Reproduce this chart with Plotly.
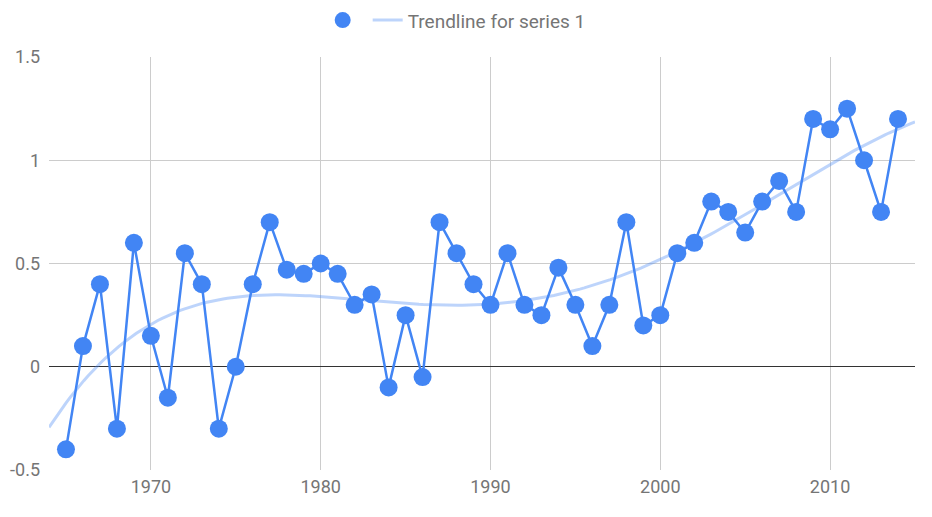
import numpy as np
import plotly.graph_objects as go

years = list(range(1965, 2015))
values = [-0.4, 0.1, 0.4, -0.3, 0.6, 0.15, -0.15, 0.55, 0.4, -0.3,
          0.0, 0.4, 0.7, 0.47, 0.45, 0.5, 0.45, 0.3, 0.35, -0.1,
          0.25, -0.05, 0.7, 0.55, 0.4, 0.3, 0.55, 0.3, 0.25, 0.48,
          0.3, 0.1, 0.3, 0.7, 0.2, 0.25, 0.55, 0.6, 0.8, 0.75,
          0.65, 0.8, 0.9, 0.75, 1.2, 1.15, 1.25, 1.0, 0.75, 1.2]
x_ticks = [1970, 1980, 1990, 2000, 2010]
y_ticks = [-0.5, 0, 0.5, 1, 1.5]
x_range = [1964, 2015]

# Polynomial trendline fitted to the series
coef = np.polyfit(np.array(years) - 1990, values, 4)
tx = np.linspace(x_range[0], x_range[1], 200)
ty = np.polyval(coef, tx - 1990)

BLUE = "#4285F4"
fig = go.Figure()
fig.add_trace(go.Scatter(x=tx, y=ty, mode="lines", name="Trendline for series 1",
                         line=dict(color="rgba(66,133,244,0.35)", width=3),
                         hoverinfo="skip"))
fig.add_trace(go.Scatter(x=years, y=values, mode="lines+markers", name="",
                         line=dict(color=BLUE, width=2.5),
                         marker=dict(color=BLUE, size=18), showlegend=False))
fig.add_trace(go.Scatter(x=[None], y=[None], mode="markers", name="",
                         marker=dict(color=BLUE, size=16)))

fig.update_layout(
    width=932, height=517,
    margin=dict(l=49, r=17, t=57, b=47, autoexpand=False),
    paper_bgcolor="white", plot_bgcolor="white",
    font=dict(family="Roboto, Arial, sans-serif", color="#757575", size=18),
    legend=dict(orientation="h", xref="container", x=0.49, xanchor="center",
                y=1.089, yanchor="middle",
                traceorder="reversed", font=dict(size=19, color="#757575")),
    showlegend=True,
)
fig.update_xaxes(range=x_range, tickvals=x_ticks, showgrid=True, gridcolor="#cccccc",
                 zeroline=False, showline=False, ticks="", ticklabelstandoff=4)
fig.update_yaxes(range=[-0.5, 1.5], tickvals=y_ticks, ticktext=["-0.5", "0", "0.5", "1", "1.5"],
                 showgrid=True, gridcolor="#cccccc", zeroline=True,
                 zerolinecolor="#333333", zerolinewidth=1, ticks="", ticklabelstandoff=8)

fig.write_html("out.html", config={"displayModeBar": False},
               post_script="document.body.style.margin='0';")
